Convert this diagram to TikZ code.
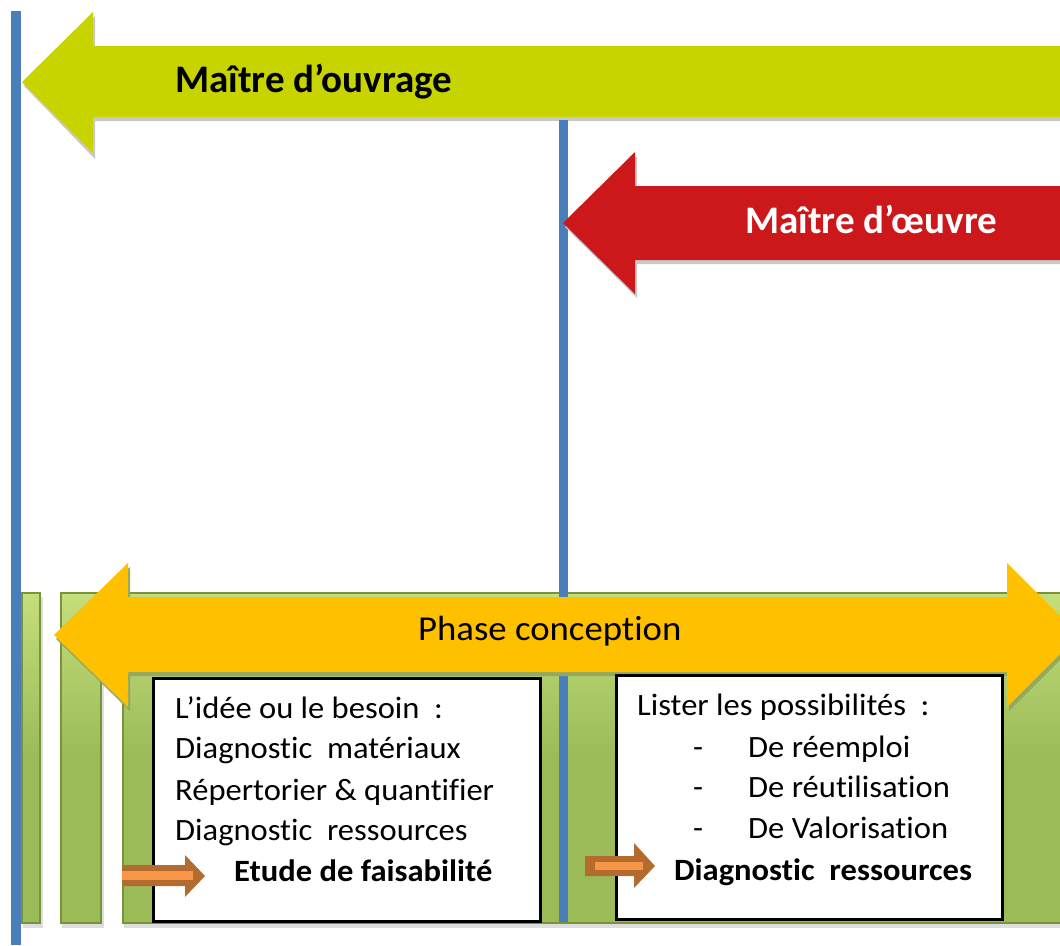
\documentclass[tikz,border=0pt]{standalone}
\usepackage{fontspec}
\setmainfont{Carlito}[Ligatures=NoCommon]
\newfontfamily\stretchfont{Carlito}[Ligatures=NoCommon, FakeStretch=1.05]
\definecolor{cOuv}{HTML}{C8D400}
\definecolor{cOeu}{HTML}{CC181A}
\definecolor{cPhase}{HTML}{FFC000}
\definecolor{cBlue}{HTML}{4A7EBB}
\definecolor{cGreen}{HTML}{9BBB59}
\definecolor{cGreenD}{HTML}{77933C}
\definecolor{cGreenL}{HTML}{C4DE7A}
\definecolor{cArrO}{HTML}{B46B30}
\definecolor{cArrI}{HTML}{F79646}
\definecolor{cShadow}{HTML}{C8C8C8}
\tikzset{
  bar/.style={top color=cGreenL, bottom color=cGreen, middle color=cGreen, draw=cGreenD, line width=2pt},
  textbox/.style={fill=white, draw=black, line width=3pt},
  bigtitle/.style={font=\bfseries\fontsize{39}{39}\selectfont, anchor=base west, inner sep=0pt},
  boxtext/.style={font=\stretchfont\fontsize{31}{31}\selectfont, anchor=base west, inner sep=0pt},
  boxbold/.style={font=\stretchfont\bfseries\fontsize{31}{31}\selectfont, anchor=base west, inner sep=0pt},
  smallarrow/.style={fill=cArrO},
  smallarrowin/.style={fill=cArrI}
}
\begin{document}
\begin{tikzpicture}[x=1pt,y=-1pt]
\useasboundingbox (0,0) rectangle (1060,945);
\fill[white] (0,0) rectangle (1060,945);

% green bars
\fill[cShadow!60] (23,597) rectangle (43,928);
\fill[cShadow!60] (62,597) rectangle (104,928);
\fill[cShadow!60] (124,597) rectangle (1062,928);
\path[bar] (22,593) rectangle (40,923);
\path[bar] (61,593) rectangle (101,923);
\path[bar] (123,593) rectangle (1064,923);

% Maitre d'ouvrage arrow
\fill[cShadow] (24,86) -- (95,16) -- (95,50) -- (1065,50) -- (1065,121) -- (95,121) -- (95,159) -- cycle;
\fill[cOuv] (22,82) -- (93,12) -- (93,46) -- (1065,46) -- (1065,117) -- (93,117) -- (93,153) -- cycle;

% middle blue line
\coordinate (mtop) at (563.5,120);
\coordinate (mbot) at (563.5,922);
\draw[cBlue, line width=9pt] (mtop) -- (mbot);

% Maitre d'oeuvre arrow
\fill[cShadow] (565,227) -- (637,156) -- (637,190) -- (1065,190) -- (1065,264) -- (637,264) -- (637,298) -- cycle;
\fill[cOeu] (563,223) -- (635,152) -- (635,186) -- (1065,186) -- (1065,260) -- (635,260) -- (635,294) -- cycle;

% Phase conception double arrow
\fill[cGreenD!80] (56,639) -- (130,567) -- (130,601) -- (1009,601) -- (1009,567) -- (1081,639) -- (1009,711) -- (1009,676) -- (130,676) -- (130,711) -- cycle;
\fill[cPhase] (54,635) -- (128,563) -- (128,597) -- (1007,597) -- (1007,563) -- (1079,635) -- (1007,707) -- (1007,672) -- (128,672) -- (128,707) -- cycle;

% text boxes
\path[textbox] (153.5,678.5) rectangle (540.5,921.5);
\path[textbox] (616.5,675.5) rectangle (1002.5,919.5);

% small arrows
\fill[smallarrow] (122,865) -- (185,865) -- (185,855) -- (205,876) -- (185,897) -- (185,886) -- (122,886) -- cycle;
\fill[smallarrowin] (122,871) rectangle (193,880);
\fill[smallarrow] (585,856) -- (634,856) -- (634,843) -- (655,866) -- (634,888) -- (634,876) -- (585,876) -- cycle;
\fill[smallarrowin] (595,862) rectangle (643,870);

% left blue line
\coordinate (ltop) at (16,11);
\coordinate (lbot) at (16,945);
\draw[cBlue, line width=10pt] (ltop) -- (lbot);

% titles
\node[bigtitle] (ouvrage) at (175,92) {Maître d’ouvrage};
\node[bigtitle, text=white] (oeuvre) at (745,233) {Maître d’œuvre};
\node[font=\stretchfont\fontsize{35}{35}\selectfont, anchor=base west, inner sep=0pt] (phase) at (418,640) {Phase conception};

% box 1
\node[boxtext] (a1) at (175,718) {L’idée ou le besoin~~:};
\node[boxtext] (a2) at (175,758) {Diagnostic~ matériaux};
\node[boxtext] (a3) at (175,800) {Répertorier \& quantifier};
\node[boxtext] (a4) at (175,840) {Diagnostic~ ressources};
\node[boxbold] (a5) at (234,881) {Etude de faisabilité};

% box 2
\node[boxtext] (b1) at (637,715) {Lister les possibilités~~:};
\node[boxtext] (b2d) at (693,757) {-};
\node[boxtext] (b2) at (748,757) {De réemploi};
\node[boxtext] (b3d) at (693,797) {-};
\node[boxtext] (b3) at (748,797) {De réutilisation};
\node[boxtext] (b4d) at (693,838) {-};
\node[boxtext] (b4) at (748,838) {De Valorisation};
\node[boxbold] (b5) at (674,880) {Diagnostic~ ressources};
\end{tikzpicture}
\end{document}
